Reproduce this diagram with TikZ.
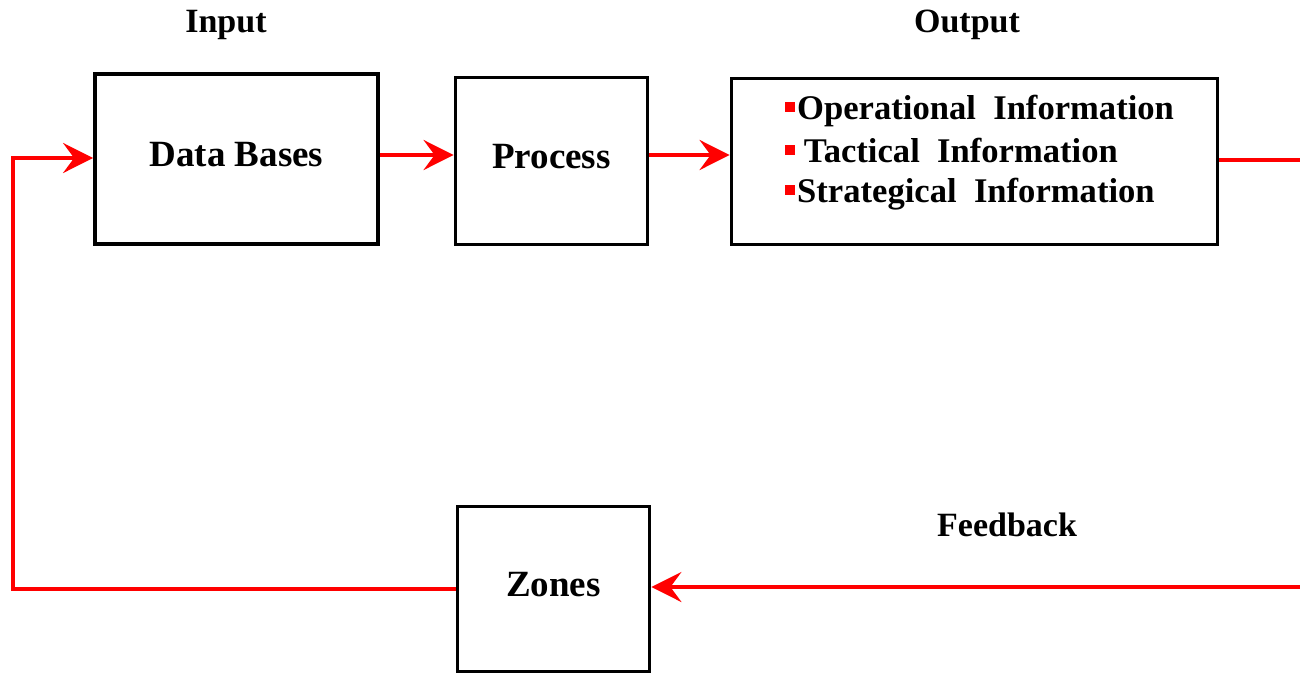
\documentclass[tikz,border=0pt]{standalone}
\usepackage{fontspec}
\setmainfont{Liberation Serif}
\usetikzlibrary{arrows.meta}
\newcommand{\redsq}{\textcolor{red}{\rule[7pt]{10pt}{10pt}}}
\begin{document}
\begin{tikzpicture}[
    x=1pt, y=-1pt,
    box/.style={draw, line width=3.8pt, inner sep=0pt, text height=26pt, text depth=12pt, font=\fontsize{37}{44}\selectfont\bfseries},
    lbl/.style={inner sep=0pt, anchor=base, font=\fontsize{34}{40}\selectfont\bfseries},
    item/.style={inner sep=0pt, anchor=base west, font=\fontsize{34.6}{40}\selectfont\bfseries},
    link/.style={draw=red, line width=4pt},
    flow/.style={link, -{Stealth[length=30pt, width=30pt, inset=11pt]}}
]
\useasboundingbox (0,0) rectangle (1300,675);
\node[box, minimum width=283pt, minimum height=170pt] (db) at (236.5,159) {Data Bases};
\node[box, minimum width=192pt, minimum height=167pt] (proc) at (551.5,161) {Process};
\node[box, minimum width=486pt, minimum height=166pt] (out) at (974.5,161.5) {};
\node[box, minimum width=192pt, minimum height=165pt] (zones) at (553.5,589) {Zones};

\node[item] (out1) at (785,119) {\redsq\kern2pt Operational\ \ Information};
\node[item] (out2) at (785,162) {\redsq\ Tactical\ \ Information};
\node[item] (out3) at (785,202) {\redsq\kern2pt Strategical\ \ Information};

\node[lbl] (input) at (226,32) {Input};
\node[lbl] (output) at (967,32) {Output};
\node[lbl] (feedback) at (1007,536) {Feedback};

\coordinate (edge1) at (1300,160);
\coordinate (edge2) at (1300,587);
\coordinate (c1) at (13,589);
\coordinate (c2) at (13,158);

\draw[flow] (db.east |- 0,155) -- (proc.west |- 0,155);
\draw[flow] (proc.east |- 0,155) -- (out.west |- 0,155);
\draw[link] (out.east |- edge1) -- (edge1);
\draw[flow] (edge2) -- (zones.east |- edge2);
\draw[flow] (zones.west |- c1) -- (c1) -- (c2) -- (db.west |- c2);
\end{tikzpicture}
\end{document}
